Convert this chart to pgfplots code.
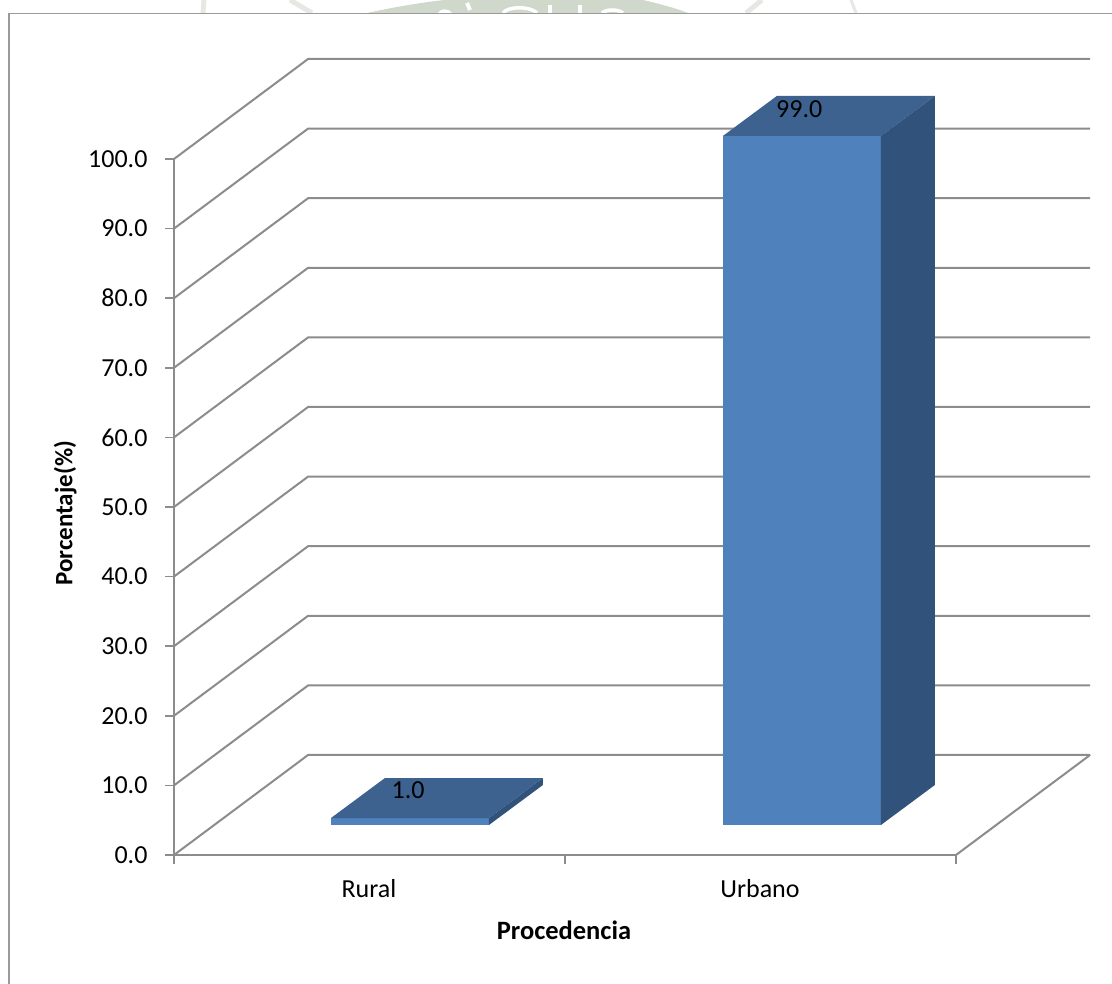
\documentclass[border=0pt]{standalone}
\usepackage{fontspec}
\setmainfont{Carlito}
\usepackage{pgfplots}
\pgfplotsset{compat=1.18}
\definecolor{gridgray}{HTML}{8C8C8C}
\definecolor{framegray}{HTML}{9A9A9A}
\definecolor{barfront}{HTML}{4F81BD}
\definecolor{bartop}{HTML}{3D6290}
\definecolor{barside}{HTML}{31537B}
\definecolor{sealgreen}{HTML}{D0D7CB}
\definecolor{sealpale}{HTML}{E6E9E3}
\begin{document}
\begin{tikzpicture}
\useasboundingbox (-174pt,-129pt) rectangle (938pt,855pt);
\begin{scope}[shift={(-174pt,855pt)},x=1pt,y=-1pt]
  % faint seal showing above the chart area
  \fill[sealgreen] (367,13) .. controls (400,6) and (425,2) .. (445,0) -- (643,0) .. controls (660,4) and (675,8) .. (688,13) -- cycle;
  \draw[white,line width=3.5pt] (503,13) .. controls (508,6) and (530,6) .. (537,13);
  \draw[white,line width=3.5pt] (550,5) -- (550,13);
  \draw[white,line width=3.5pt] (580,5) -- (580,13);
  \draw[white,line width=3.5pt] (602,13) .. controls (606,9) and (618,9) .. (623,13);
  \fill[white] (438,13) .. controls (440,8) and (449,8) .. (452,13) -- cycle;
  \draw[white,line width=4pt] (467,3) -- (470,10);
  \draw[sealpale,line width=5pt] (290,0) -- (312,13);
  \draw[sealpale,line width=5pt] (204,0) -- (203,13);
  \draw[sealpale,line width=5pt] (762,0) -- (746,13);
  \draw[sealpale,line width=3pt] (851,0) -- (856,13);
  % outer chart frame, open at the right and the bottom
  \fill[white] (9,13) rectangle (1112,984);
  \draw[framegray,line width=1.8pt] (9,984) -- (9,13.5) -- (1112,13.5);
\end{scope}
\begin{axis}[
  at={(0pt,0pt)}, anchor=south west,
  scale only axis, width=782pt, height=696pt,
  xmin=0, xmax=2, ymin=0, ymax=100,
  clip=false,
  axis lines=left,
  axis line style={gridgray,line width=2pt,-},
  tick style={gridgray,line width=1.6pt},
  tick align=outside,
  major tick length=9pt,
  xtick={0,1,2}, xticklabels={},
  extra x ticks={0.4987,1.4987},
  extra x tick labels={Rural,Urbano},
  extra x tick style={major tick length=0pt, tick label style={yshift=-21pt}},
  ytick={0,10,...,100},
  /pgf/number format/assume math mode=true,
  y tick label style={/pgf/number format/fixed,/pgf/number format/fixed zerofill,/pgf/number format/precision=1,xshift=-14pt},
  ticklabel style={font=\fontsize{26}{30}\selectfont,black},
  xlabel={Procedencia},
  ylabel={Porcentaje(\%)},
  xlabel style={font=\fontsize{26.5}{30}\selectfont\bfseries,black,at={(axis description cs:0.4987,-0.1076)},anchor=center},
  ylabel style={font=\fontsize{25}{30}\selectfont\bfseries,black,at={(axis description cs:-0.139,0.491)},anchor=center,rotate=0},
]
% walls: one line per percentage level, receding to the back plane
\foreach \v/\w in {0/14.37,10/24.37,20/34.37,30/44.37,40/54.37,50/64.37,60/74.37,70/84.37,80/94.37,90/104.37,100/114.37}{
  \edef\tmp{\noexpand\addplot[gridgray,line width=2pt,forget plot] coordinates {(0,\v) (0.343,\w) (2.343,\w)};}
  \tmp
}
% floor edge on the right
\addplot[gridgray,line width=2pt,forget plot] coordinates {(2,0) (2.343,14.37)};

% Rural, 1.0
\addplot[fill=barfront,draw=none,forget plot] coordinates {(0.4015,4.31) (0.8056,4.31) (0.8056,5.31) (0.4015,5.31)} -- cycle;
\addplot[fill=bartop,draw=none,forget plot] coordinates {(0.4015,5.31) (0.8056,5.31) (0.9436,11.06) (0.5395,11.06)} -- cycle;
\addplot[fill=barside,draw=none,forget plot] coordinates {(0.8056,4.31) (0.9436,10.06) (0.9436,11.06) (0.8056,5.31)} -- cycle;
% Urbano, 99.0
\addplot[fill=barfront,draw=none,forget plot] coordinates {(1.404,4.31) (1.808,4.31) (1.808,103.31) (1.404,103.31)} -- cycle;
\addplot[fill=bartop,draw=none,forget plot] coordinates {(1.404,103.31) (1.808,103.31) (1.946,109.06) (1.542,109.06)} -- cycle;
\addplot[fill=barside,draw=none,forget plot] coordinates {(1.808,4.31) (1.946,10.06) (1.946,109.06) (1.808,103.31)} -- cycle;

% value labels on the bar tops
\addplot[only marks,mark=none,forget plot,
  point meta=explicit symbolic,
  nodes near coords,
  nodes near coords style={anchor=center,font=\fontsize{26}{30}\selectfont,black},
] coordinates {(0.599,9.34) [1.0] (1.599,107.1) [99.0]};
\end{axis}
\end{tikzpicture}
\end{document}
